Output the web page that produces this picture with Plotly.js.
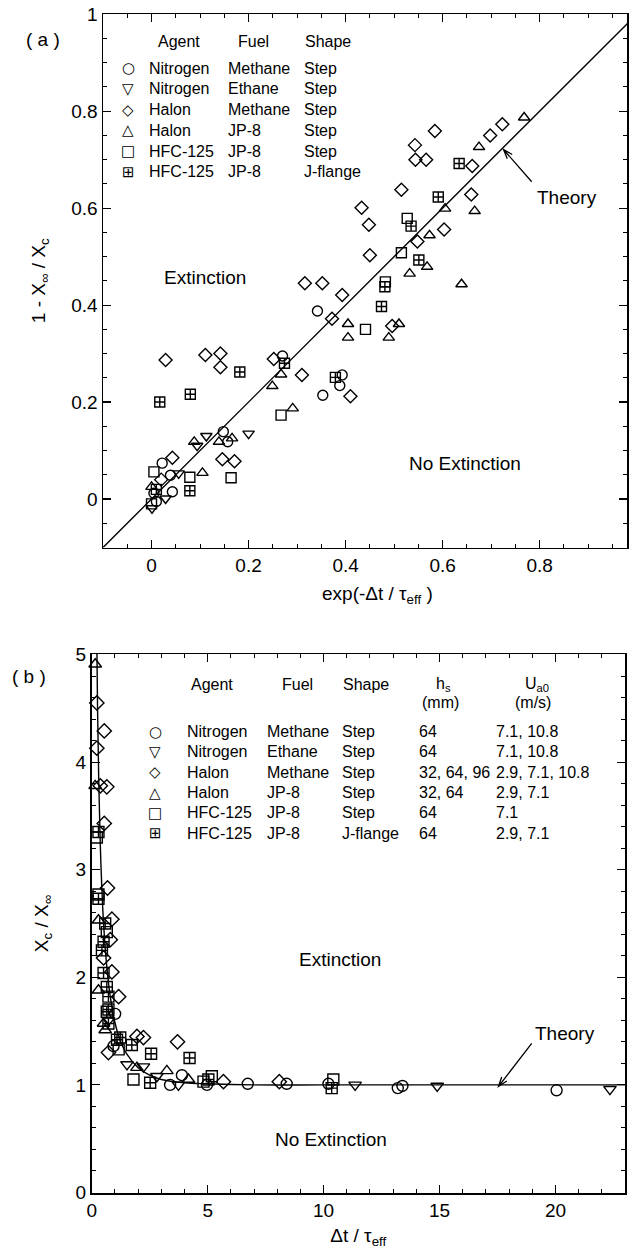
<!DOCTYPE html>
<html>
<head>
<meta charset="utf-8">
<script src="https://cdn.plot.ly/plotly-3.0.1.min.js"></script>
<style>
html,body{margin:0;padding:0;background:#fff;}
#chart{width:633px;height:1250px;}
</style>
</head>
<body>
<div id="chart"></div>
<script>
// ---------------- Panel (a): 1 - Xinf/Xc vs exp(-dt/tau_eff) ----------------
const aCircleX = [0.342, 0.270, 0.388, 0.353, 0.393, 0.148, 0.157, 0.022, 0.039, 0.043, 0.005, 0.010];
const aCircleY = [0.388, 0.295, 0.234, 0.214, 0.256, 0.139, 0.118, 0.074, 0.049, 0.015, 0.012, -0.005];
const aDownTriX = [0.200, 0.113, 0.094, 0.056, 0.029, 0.001];
const aDownTriY = [0.135, 0.130, 0.110, 0.053, 0.001, -0.019];
const aDiamondX = [0.316, 0.352, 0.393, 0.372, 0.029, 0.111, 0.142, 0.142, 0.252, 0.310, 0.146, 0.171, 0.043, 0.020, 0.410, 0.496, 0.450, 0.548, 0.603, 0.448, 0.433, 0.659, 0.515, 0.661, 0.544, 0.566, 0.543, 0.584, 0.698, 0.723];
const aDiamondY = [0.445, 0.445, 0.421, 0.372, 0.287, 0.297, 0.300, 0.272, 0.289, 0.256, 0.082, 0.078, 0.085, 0.040, 0.212, 0.357, 0.503, 0.531, 0.556, 0.566, 0.601, 0.628, 0.638, 0.687, 0.700, 0.700, 0.730, 0.759, 0.750, 0.773];
const aTriUpX = [0.768, 0.675, 0.605, 0.666, 0.573, 0.568, 0.532, 0.639, 0.405, 0.405, 0.510, 0.489, 0.267, 0.249, 0.291, 0.088, 0.139, 0.166, 0.105, 0.000];
const aTriUpY = [0.787, 0.726, 0.599, 0.594, 0.544, 0.479, 0.465, 0.443, 0.361, 0.333, 0.361, 0.333, 0.257, 0.233, 0.187, 0.118, 0.118, 0.125, 0.054, 0.025];
const aSquareX = [0.527, 0.515, 0.482, 0.441, 0.267, 0.164, 0.005, 0.079, 0.000];
const aSquareY = [0.579, 0.508, 0.448, 0.350, 0.173, 0.044, 0.056, 0.045, -0.010];
const aGridX = [0.634, 0.591, 0.535, 0.551, 0.481, 0.474, 0.379, 0.274, 0.182, 0.080, 0.017, 0.079, 0.010];
const aGridY = [0.692, 0.623, 0.563, 0.493, 0.438, 0.397, 0.251, 0.280, 0.262, 0.216, 0.200, 0.017, 0.020];
const aTheoryX = [-0.1, 1.0];
const aTheoryY = [-0.1, 1.0];

// ---------------- Panel (b): Xc/Xinf vs dt/tau_eff ----------------
const bCircleX = [1.01, 0.94, 3.38, 3.89, 4.97, 6.73, 8.41, 10.21, 13.2, 13.4, 20.05];
const bCircleY = [1.66, 1.36, 1.00, 1.09, 1.00, 1.01, 1.01, 1.01, 0.97, 0.99, 0.95];
const bDownTriX = [0.72, 1.52, 2.23, 2.81, 3.74, 11.36, 14.90, 22.35];
const bDownTriY = [1.60, 1.19, 1.17, 1.08, 1.00, 1.00, 0.99, 0.96];
const bDiamondX = [0.22, 0.54, 0.22, 0.37, 0.65, 0.54, 0.68, 0.87, 0.80, 0.51, 0.87, 1.16, 1.95, 2.23, 3.70, 0.72, 5.68, 8.09];
const bDiamondY = [4.55, 4.29, 4.13, 3.78, 3.77, 3.43, 2.83, 2.54, 2.35, 2.18, 2.05, 1.82, 1.45, 1.44, 1.40, 1.30, 1.03, 1.03];
const bTriUpX = [0.15, 0.15, 0.29, 0.29, 0.58, 0.51, 1.95, 3.24, 4.17];
const bTriUpY = [4.91, 3.78, 2.53, 1.88, 1.51, 1.57, 1.16, 1.13, 1.05];
const bSquareX = [0.22, 0.29, 0.65, 1.16, 1.80, 4.82, 5.18, 10.42];
const bSquareY = [3.30, 2.77, 2.42, 1.33, 1.05, 1.03, 1.08, 1.05];
const bGridX = [0.29, 0.29, 0.58, 0.51, 0.44, 0.51, 0.65, 0.72, 0.72, 0.65, 0.72, 1.09, 1.23, 1.73, 2.56, 4.22, 2.52, 5.03, 10.35];
const bGridY = [3.35, 2.73, 2.50, 2.33, 2.25, 2.04, 1.91, 1.82, 1.70, 1.68, 1.57, 1.42, 1.44, 1.37, 1.29, 1.25, 1.02, 1.05, 0.97];
const bTheoryX = [0.21, 0.25, 0.30, 0.35, 0.40, 0.50, 0.60, 0.70, 0.80, 1.00, 1.25, 1.50, 2.00, 2.50, 3.00, 4.00, 5.00, 7.00, 10.0, 15.0, 23.0];
const bTheoryY = [5.28, 4.52, 3.86, 3.39, 3.03, 2.54, 2.22, 1.99, 1.82, 1.58, 1.40, 1.29, 1.16, 1.09, 1.05, 1.02, 1.01, 1.00, 1.00, 1.00, 1.00];

// ---------------- Legend table ----------------
const legSymbols = ['\u25CB', '\u25BD', '\u25C7', '\u25B3', '\u25A1', '\u229E'];
const legAgents = ['Nitrogen', 'Nitrogen', 'Halon', 'Halon', 'HFC-125', 'HFC-125'];
const legFuels = ['Methane', 'Ethane', 'Methane', 'JP-8', 'JP-8', 'JP-8'];
const legShapes = ['Step', 'Step', 'Step', 'Step', 'Step', 'J-flange'];
const legHs = ['64', '64', '32, 64, 96', '32, 64', '64', '64'];
const legUa = ['7.1, 10.8', '7.1, 10.8', '2.9, 7.1, 10.8', '2.9, 7.1', '7.1', '2.9, 7.1'];

const symbols = ['circle-open', 'triangle-down-open', 'diamond-open', 'triangle-up-open', 'square-open', 'square-cross-open'];

const FONT = 'Liberation Sans, Arial, Helvetica, sans-serif';
const W = 633, H = 1250, ML = 91, MR = 6, MT = 14, MB = 57;
const PW = W - ML - MR, PH = H - MT - MB;
const px = x => (x - ML) / PW;
const py = y => (H - MB - y) / PH;

function pts(x, y, sym, xa, ya, size) {
  return {x: x, y: y, type: 'scatter', mode: 'markers', xaxis: xa, yaxis: ya,
    showlegend: false, cliponaxis: false, hoverinfo: 'skip',
    marker: {symbol: sym, size: size, color: 'black', line: {color: 'black', width: 1.4}}};
}

const data = [
  {x: aTheoryX, y: aTheoryY, type: 'scatter', mode: 'lines', xaxis: 'x', yaxis: 'y', showlegend: false,
   line: {color: 'black', width: 1.4}, hoverinfo: 'skip'},
  pts(aCircleX, aCircleY, symbols[0], 'x', 'y', 10),
  pts(aDownTriX, aDownTriY, symbols[1], 'x', 'y', 10),
  pts(aDiamondX, aDiamondY, symbols[2], 'x', 'y', 10),
  pts(aTriUpX, aTriUpY, symbols[3], 'x', 'y', 10),
  pts(aSquareX, aSquareY, symbols[4], 'x', 'y', 10),
  pts(aGridX, aGridY, symbols[5], 'x', 'y', 10),
  {x: bTheoryX, y: bTheoryY, type: 'scatter', mode: 'lines', xaxis: 'x2', yaxis: 'y2', showlegend: false,
   line: {color: 'black', width: 1.4, shape: 'spline'}, hoverinfo: 'skip'},
  pts(bCircleX, bCircleY, symbols[0], 'x2', 'y2', 11),
  pts(bDownTriX, bDownTriY, symbols[1], 'x2', 'y2', 11),
  pts(bDiamondX, bDiamondY, symbols[2], 'x2', 'y2', 11),
  pts(bTriUpX, bTriUpY, symbols[3], 'x2', 'y2', 11),
  pts(bSquareX, bSquareY, symbols[4], 'x2', 'y2', 11),
  pts(bGridX, bGridY, symbols[5], 'x2', 'y2', 11)
];

function axis(extra) {
  return Object.assign({
    showline: true, linecolor: 'black', linewidth: 1.5, mirror: 'ticks',
    ticks: 'inside', ticklen: 8, tickwidth: 1.2, tickcolor: 'black',
    showgrid: false, zeroline: false, fixedrange: true,
    tickfont: {family: FONT, size: 19, color: 'black'},
    title: {font: {family: FONT, size: 19, color: 'black'}}
  }, extra);
}

const annotations = [];
function txt(text, x, y, size, xanchor, extra) {
  annotations.push(Object.assign({text: text, x: px(x), y: py(y), xref: 'paper', yref: 'paper',
    showarrow: false, xanchor: xanchor || 'center', yanchor: 'middle',
    font: {family: FONT, size: size, color: 'black'}}, extra || {}));
}

// panel labels, axis title (a) and region labels
txt('( a )', 43, 39, 19);
txt('( b )', 29, 676, 19);
txt('exp(-\u0394t / \u03C4<sub>eff</sub> )', 377, 595, 19);
txt('Extinction', 205, 277, 19);
txt('No Extinction', 465, 463, 19);
txt('Theory', 567, 197, 19);
txt('Extinction', 340, 959, 19);
txt('No Extinction', 331, 1139, 19);
txt('Theory', 565, 1033, 19);

// arrows pointing at the theory lines (pixel positions -> paper)
function arrowPath(x0, y0, x1, y1) {
  const dx = x1 - x0, dy = y1 - y0, L = Math.hypot(dx, dy);
  const ux = dx / L, uy = dy / L, hl = 10, ang = 0.33;
  const c = Math.cos(ang), s = Math.sin(ang);
  const ax1 = x1 - hl * (ux * c - uy * s), ay1 = y1 - hl * (uy * c + ux * s);
  const ax2 = x1 - hl * (ux * c + uy * s), ay2 = y1 - hl * (uy * c - ux * s);
  const P = (x, y) => px(x) + ',' + py(y);
  return {type: 'path', xref: 'paper', yref: 'paper',
    path: 'M' + P(x0, y0) + ' L' + P(x1, y1) + ' M' + P(ax1, ay1) + ' L' + P(x1, y1) + ' L' + P(ax2, ay2),
    line: {color: 'black', width: 1.3}};
}
const shapes = [arrowPath(531.7, 181.7, 503.5, 149.5), arrowPath(531.7, 1043.3, 498.5, 1086.5)];

// legend panel (a)
txt('Agent', 179, 42, 16);
txt('Fuel', 253, 42, 16);
txt('Shape', 303, 42, 16, 'left');
for (let i = 0; i < 6; i++) {
  const yy = 68.3 + i * 20.7;
  txt(legSymbols[i], 128, yy, 15, 'center', {font: {family: 'DejaVu Sans', size: 15, color: 'black'}});
  txt(legAgents[i], 147, yy, 16, 'left');
  txt(legFuels[i], 226, yy, 16, 'left');
  txt(legShapes[i], 302, yy, 16, 'left');
}

// legend panel (b)
txt('Agent', 212, 685, 16);
txt('Fuel', 297, 685, 16);
txt('Shape', 366, 685, 16);
txt('h<sub>s</sub>', 443, 685, 16);
txt('(mm)', 440, 702, 16);
txt('U<sub>a0</sub>', 537, 685, 16);
txt('(m/s)', 533, 702, 16);
for (let i = 0; i < 6; i++) {
  const yy = 731.7 + i * 20.3;
  txt(legSymbols[i], 155, yy, 15, 'center', {font: {family: 'DejaVu Sans', size: 15, color: 'black'}});
  txt(legAgents[i], 185, yy, 16, 'left');
  txt(legFuels[i], 265, yy, 16, 'left');
  txt(legShapes[i], 340, yy, 16, 'left');
  txt(legHs[i], 417, yy, 16, 'left');
  txt(legUa[i], 494, yy, 16, 'left');
}

const layout = {
  width: W, height: H,
  margin: {l: ML, r: MR, t: MT, b: MB},
  paper_bgcolor: 'white', plot_bgcolor: 'white',
  showlegend: false,
  font: {family: FONT, color: 'black'},
  xaxis: axis({domain: [px(103), px(627)], range: [-0.1, 0.98], anchor: 'y',
    tick0: 0, dtick: 0.2, ticklabelstandoff: 0,
    minor: {dtick: 0.05, tick0: 0, ticks: 'inside', ticklen: 4, tickwidth: 1, tickcolor: 'black'}}),
  yaxis: axis({domain: [py(547.5), py(14)], range: [-0.1, 1.0005], anchor: 'x',
    tick0: 0, dtick: 0.2, ticklabelstandoff: 0,
    minor: {dtick: 0.05, tick0: 0, ticks: 'inside', ticklen: 4, tickwidth: 1, tickcolor: 'black'},
    title: {text: '1 - X<sub>\u221E</sub> / X<sub>c</sub>', standoff: 20, font: {family: FONT, size: 19, color: 'black'}}}),
  xaxis2: axis({domain: [px(91.5), px(625)], range: [-0.01, 23], anchor: 'y2',
    tick0: 0, dtick: 5, ticklabelstandoff: 0,
    minor: {dtick: 1, tick0: 0, ticks: 'inside', ticklen: 4, tickwidth: 1, tickcolor: 'black'},
    title: {text: '\u0394t / \u03C4<sub>eff</sub>', standoff: 8, font: {family: FONT, size: 19, color: 'black'}}}),
  yaxis2: axis({domain: [py(1193), py(654)], range: [-0.005, 5.005], anchor: 'x2',
    tick0: 0, dtick: 1, ticklabelstandoff: 0,
    minor: {dtick: 0.2, tick0: 0, ticks: 'inside', ticklen: 4, tickwidth: 1, tickcolor: 'black'},
    title: {text: 'X<sub>c</sub> / X<sub>\u221E</sub>', standoff: 22, font: {family: FONT, size: 19, color: 'black'}}}),
  annotations: annotations,
  shapes: shapes
};

Plotly.newPlot('chart', data, layout, {displayModeBar: false, staticPlot: true});
</script>
</body>
</html>
